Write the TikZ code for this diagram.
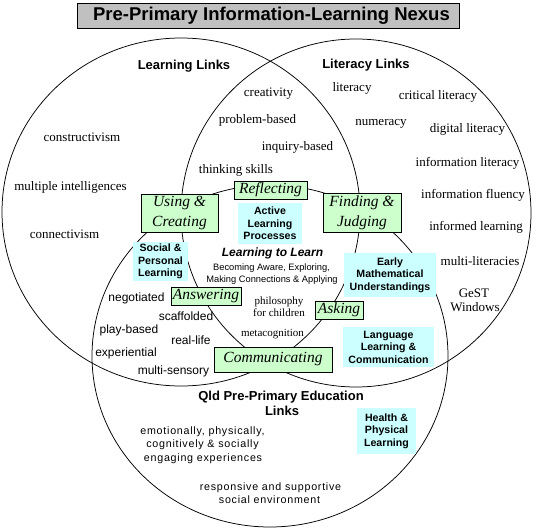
\documentclass[tikz,border=0pt]{standalone}
\usepackage{fontspec}
\setmainfont{Liberation Serif}
\newfontfamily\arial{Liberation Sans}
\newfontfamily\arialsp[LetterSpace=7]{Liberation Sans}
\definecolor{grnfill}{RGB}{204,255,204}
\definecolor{cynfill}{RGB}{204,255,255}
\definecolor{ttlfill}{RGB}{192,192,192}
\begin{document}
\begin{tikzpicture}[x=1pt,y=-1pt,
  circ/.style={draw=black, line width=0.75pt},
  srf/.style={inner sep=0pt, text height=9.1pt, text depth=1.3pt, font=\fontsize{13}{15}\selectfont},
  sml/.style={inner sep=0pt, text height=7.7pt, text depth=1.1pt, font=\fontsize{11}{13}\selectfont},
  sns/.style={inner sep=0pt, text height=8.4pt, text depth=1.2pt, font=\arial\fontsize{12}{14}\selectfont},
  tiny/.style={inner sep=0pt, text height=6.6pt, text depth=0.9pt, font=\arial\fontsize{9.3}{11}\selectfont},
  spc/.style={inner sep=0pt, text height=7.5pt, text depth=1.1pt, font=\arialsp\fontsize{10.7}{12}\selectfont},
  hdr/.style={inner sep=0pt, text height=9.1pt, text depth=1.3pt, font=\arial\bfseries\fontsize{13}{15}\selectfont},
  grn/.style={draw=black, line width=0.75pt, fill=grnfill, inner sep=0pt, align=center,
              font=\itshape\fontsize{15.5}{20}\selectfont},
  cyn/.style={fill=cynfill, inner sep=0pt, align=center,
              font=\arial\bfseries\fontsize{10.6}{12.5}\selectfont}
]
\useasboundingbox (0,0) rectangle (541,530);

% Venn circles
\draw[circ] (181,212) ellipse [x radius=179, y radius=174];
\draw[circ] (356,213) ellipse [x radius=175, y radius=174];
\draw[circ] (270,356) ellipse [x radius=178, y radius=171];

% title
\node[draw=black, line width=0.75pt, fill=ttlfill, minimum width=382pt, minimum height=25pt, inner sep=0pt] (ttlbox) at (268,15.5) {};
\node[inner sep=0pt, font=\arial\bfseries\fontsize{18.5}{20}\selectfont] (ttl) at (271.5,15.5) {Pre-Primary Information-Learning Nexus};

% circle headings
\node[hdr] (hlearn) at (184,66) {Learning Links};
\node[hdr] (hlit) at (366,65) {Literacy Links};
\node[hdr] (hqld1) at (281,397) {Qld Pre-Primary Education};
\node[hdr] (hqld2) at (282,412) {Links};

% green process boxes
\node[grn, minimum width=77pt, minimum height=38pt] (use) at (179.5,213) {Using \&\\Creating};
\node[grn, minimum width=73pt, minimum height=18pt] (refl) at (270.5,190) {Reflecting};
\node[grn, minimum width=78pt, minimum height=39pt] (find) at (362,212.5) {Finding \&\\Judging};
\node[grn, minimum width=70pt, minimum height=18pt] (ans) at (206,296) {Answering};
\node[grn, minimum width=48pt, minimum height=18pt] (ask) at (339,310) {Asking};
\node[grn, minimum width=118pt, minimum height=25pt] (comm) at (273,359.5) {Communicating};

% cyan boxes
\node[cyn, minimum width=64pt, minimum height=41pt] (active) at (270,223.5) {Active\\Learning\\Processes};
\node[cyn, minimum width=55pt, minimum height=39pt] (social) at (160.5,261.5) {Social \&\\Personal\\Learning};
\node[cyn, minimum width=92pt, minimum height=44pt] (math) at (390,275) {Early\\Mathematical\\Understandings};
\node[cyn, minimum width=91pt, minimum height=40pt] (lang) at (388.5,347) {Language\\Learning \&\\Communication};
\node[cyn, minimum width=59pt, minimum height=46pt] (health) at (386.5,431) {Health \&\\Physical\\Learning};

% serif labels
\node[srf] (t1) at (268.5,93) {creativity};
\node[srf] (t2) at (352,88) {literacy};
\node[srf] (t3) at (438,96) {critical literacy};
\node[srf] (t4) at (257.5,120) {problem-based};
\node[srf] (t5) at (381,122) {numeracy};
\node[srf] (t6) at (467.5,129) {digital literacy};
\node[srf] (t7) at (82,138) {constructivism};
\node[srf] (t8) at (297.5,147) {inquiry-based};
\node[srf] (t9) at (467.5,163) {information literacy};
\node[srf] (t10) at (236,170) {thinking skills};
\node[srf] (t11) at (70.5,187) {multiple intelligences};
\node[srf] (t12) at (473,195) {information fluency};
\node[srf] (t13) at (476,227) {informed learning};
\node[srf] (t14) at (64.5,235) {connectivism};
\node[srf] (t15) at (480,262) {multi-literacies};
\node[srf] (t16) at (474,294) {GeST};
\node[srf] (t17) at (475,308) {Windows};

% small serif labels
\node[sml] (p1) at (279,301) {philosophy};
\node[sml] (p2) at (279,313) {for children};
\node[sml] (p3) at (272.5,333) {metacognition};

% learning to learn
\node[inner sep=0pt, text height=8.6pt, text depth=1.2pt, font=\arial\bfseries\itshape\fontsize{12}{14}\selectfont] (ltl) at (272.5,253) {Learning to Learn};
\node[tiny] (ltl2) at (271.5,268) {Becoming Aware, Exploring,};
\node[tiny] (ltl3) at (272,280) {Making Connections \& Applying};

% sans labels
\node[sns] (s1) at (136.5,298) {negotiated};
\node[sns] (s2) at (186,317) {scaffolded};
\node[sns] (s3) at (129,330) {play-based};
\node[sns] (s4) at (191,341) {real-life};
\node[sns] (s5) at (126,353) {experiential};
\node[sns] (s6) at (173.5,371) {multi-sensory};

% spaced sans labels
\node[spc] (e1) at (202.5,431) {emotionally, physically,};
\node[spc] (e2) at (202.5,444) {cognitively \& socially};
\node[spc] (e3) at (203,458) {engaging experiences};
\node[spc] (r1) at (270.5,487) {responsive and supportive};
\node[spc] (r2) at (269.5,500) {social environment};
\end{tikzpicture}
\end{document}
